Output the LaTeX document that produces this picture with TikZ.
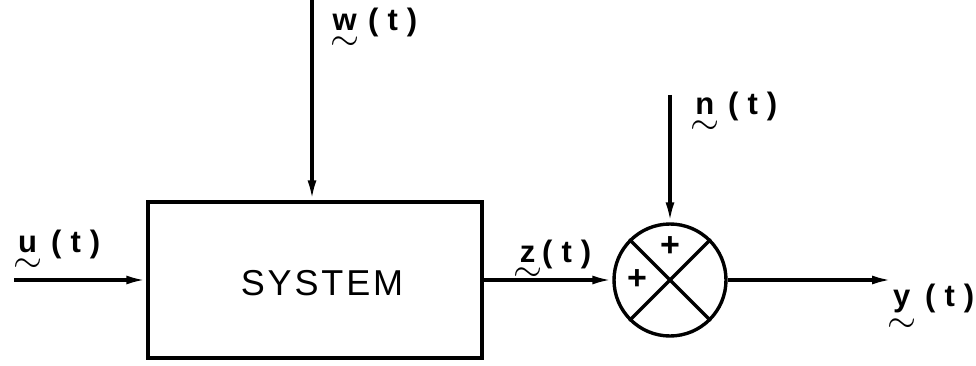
\documentclass[tikz,border=0pt]{standalone}
\usepackage{amsmath}
\usepackage{graphicx}
\usepackage{fontspec}
\setmainfont{Liberation Sans}
\usetikzlibrary{arrows.meta}
\newcommand{\tl}[1]{\ensuremath{\underset{\raisebox{-5pt}{\scalebox{1.5}{$\sim$}}}{\text{#1}}}}
\newcommand{\gp}{\hspace{9pt}}
\begin{document}
\begin{tikzpicture}[x=1pt,y=-1pt,
  wire/.style={line width=3.4pt,-{Latex[length=20pt,width=9pt]}},
  lbl/.style={font=\fontsize{31}{34}\selectfont\bfseries,inner sep=0pt,anchor=base west},
  edge/.style={line width=3.4pt},
  plus/.style={font=\fontsize{34}{38}\selectfont\bfseries,inner sep=0pt}]
\useasboundingbox (0,0) rectangle (976,366);
\node[draw,line width=3.4pt,minimum width=334pt,minimum height=156pt,inner sep=0pt] (sys) at (315,280) {};
\node[font=\fontsize{36}{40}\selectfont\addfontfeature{LetterSpace=8},anchor=base,inner sep=0pt] (syst) at (322,295) {SYSTEM};
\node[circle,draw,line width=3.4pt,minimum size=112pt,inner sep=0pt] (sum) at (670,280) {};
\draw[edge] (sum.north west) -- (sum.south east);
\draw[edge] (sum.north east) -- (sum.south west);
\node[plus] (p1) at (670,247) {+};
\node[plus] (p2) at (637,280) {+};
\coordinate (uin) at (14,280);
\coordinate (win) at (312,0);
\coordinate (nin) at (670,95);
\coordinate (yout) at (892,280);
\coordinate (sysr) at (sys.east |- sum.west);
\coordinate (sysl) at (sys.west |- uin);
\coordinate (syst2) at (win |- sys.north);
\draw[wire] (uin) -- (sysl);
\draw[wire] (win) -- (syst2);
\draw[wire] (sysr) -- (sum.west);
\draw[wire] (nin) -- (sum.north);
\draw[wire] (sum.east) -- (yout);
\node[lbl] (ul) at (13,252) {\tl{u}\gp(\gp t\gp)};
\node[lbl] (wl) at (330,31) {\tl{w}\gp(\gp t\gp)};
\node[lbl] (zl) at (513,262) {\tl{z}(\gp t\gp)};
\node[lbl] (nl) at (690,115) {\tl{n}\gp(\gp t\gp)};
\node[lbl] (yl) at (887,306) {\tl{y}\gp(\gp t\gp)};
\end{tikzpicture}
\end{document}
